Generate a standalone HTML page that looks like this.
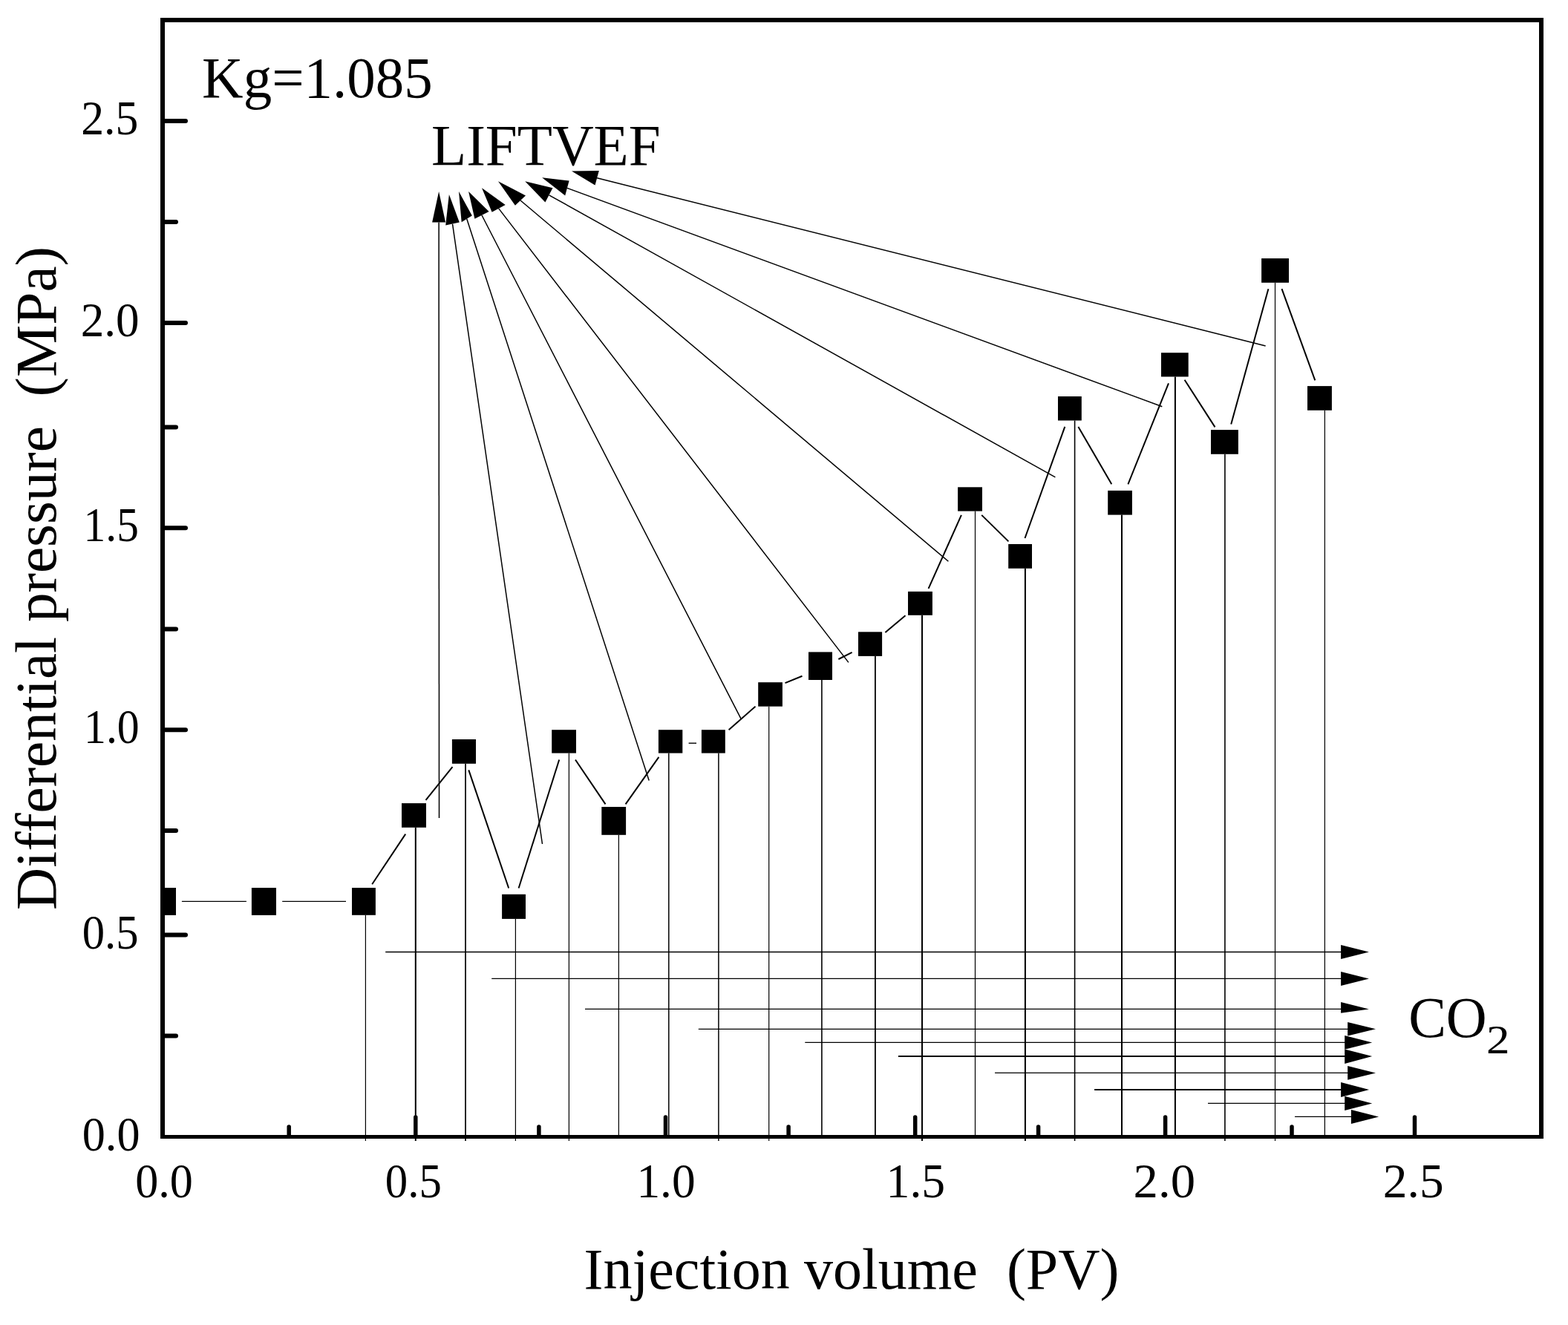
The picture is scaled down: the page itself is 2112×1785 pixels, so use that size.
<!DOCTYPE html>
<html><head><meta charset="utf-8"><title>Differential pressure vs injection volume</title>
<style>html,body{margin:0;padding:0;background:#fff;width:2112px;height:1785px;overflow:hidden}svg{display:block}</style>
</head><body>
<svg width="2112" height="1785" viewBox="0 0 2112 1785">
<rect x="216" y="24" width="6" height="1510" fill="#000"/>
<rect x="216" y="24" width="1863" height="6" fill="#000"/>
<rect x="2073" y="24" width="6" height="1510" fill="#000"/>
<rect x="216" y="1529" width="1863" height="5" fill="#000"/>
<line x1="219" y1="163.0" x2="250" y2="163.0" stroke="#000" stroke-width="6" stroke-linecap="round"/>
<line x1="219" y1="435.0" x2="250" y2="435.0" stroke="#000" stroke-width="6" stroke-linecap="round"/>
<line x1="219" y1="711.2" x2="250" y2="711.2" stroke="#000" stroke-width="6" stroke-linecap="round"/>
<line x1="219" y1="983.2" x2="250" y2="983.2" stroke="#000" stroke-width="6" stroke-linecap="round"/>
<line x1="219" y1="1259.5" x2="250" y2="1259.5" stroke="#000" stroke-width="6" stroke-linecap="round"/>
<line x1="219" y1="298.9" x2="237" y2="298.9" stroke="#000" stroke-width="6" stroke-linecap="round"/>
<line x1="219" y1="575.5" x2="237" y2="575.5" stroke="#000" stroke-width="6" stroke-linecap="round"/>
<line x1="219" y1="847.4" x2="237" y2="847.4" stroke="#000" stroke-width="6" stroke-linecap="round"/>
<line x1="219" y1="1119.0" x2="237" y2="1119.0" stroke="#000" stroke-width="6" stroke-linecap="round"/>
<line x1="219" y1="1395.5" x2="237" y2="1395.5" stroke="#000" stroke-width="6" stroke-linecap="round"/>
<line x1="559.8" y1="1531" x2="559.8" y2="1505" stroke="#000" stroke-width="5.5" stroke-linecap="round"/>
<line x1="896.5" y1="1531" x2="896.5" y2="1505" stroke="#000" stroke-width="5.5" stroke-linecap="round"/>
<line x1="1232.7" y1="1531" x2="1232.7" y2="1505" stroke="#000" stroke-width="5.5" stroke-linecap="round"/>
<line x1="1569.6" y1="1531" x2="1569.6" y2="1505" stroke="#000" stroke-width="5.5" stroke-linecap="round"/>
<line x1="1905.5" y1="1531" x2="1905.5" y2="1505" stroke="#000" stroke-width="5.5" stroke-linecap="round"/>
<line x1="389.2" y1="1531" x2="389.2" y2="1518" stroke="#000" stroke-width="5.5" stroke-linecap="round"/>
<line x1="725.9" y1="1531" x2="725.9" y2="1518" stroke="#000" stroke-width="5.5" stroke-linecap="round"/>
<line x1="1062.1" y1="1531" x2="1062.1" y2="1518" stroke="#000" stroke-width="5.5" stroke-linecap="round"/>
<line x1="1398.6" y1="1531" x2="1398.6" y2="1518" stroke="#000" stroke-width="5.5" stroke-linecap="round"/>
<line x1="1740.0" y1="1531" x2="1740.0" y2="1518" stroke="#000" stroke-width="5.5" stroke-linecap="round"/>
<line x1="492.4" y1="1232.8" x2="492.4" y2="1537" stroke="#000" stroke-width="1.2"/>
<line x1="559.8" y1="1114.8" x2="559.8" y2="1537" stroke="#000" stroke-width="2"/>
<line x1="627.0" y1="1028.8" x2="627.0" y2="1537" stroke="#000" stroke-width="1.7"/>
<line x1="694.4" y1="1237.9" x2="694.4" y2="1537" stroke="#000" stroke-width="1.2"/>
<line x1="766.4" y1="1014.6" x2="766.4" y2="1537" stroke="#000" stroke-width="1.2"/>
<line x1="833.4" y1="1124.8" x2="833.4" y2="1531" stroke="#000" stroke-width="1.2"/>
<line x1="900.8" y1="1014.6" x2="900.8" y2="1531" stroke="#000" stroke-width="1.5"/>
<line x1="967.9" y1="1014.6" x2="967.9" y2="1537" stroke="#000" stroke-width="1.5"/>
<line x1="1035.7" y1="951.7" x2="1035.7" y2="1537" stroke="#000" stroke-width="1.2"/>
<line x1="1106.9" y1="916.0" x2="1106.9" y2="1531" stroke="#000" stroke-width="1.6"/>
<line x1="1178.9" y1="883.9" x2="1178.9" y2="1531" stroke="#000" stroke-width="1.8"/>
<line x1="1242.0" y1="828.8" x2="1242.0" y2="1537" stroke="#000" stroke-width="2"/>
<line x1="1313.5" y1="688.6" x2="1313.5" y2="1531" stroke="#000" stroke-width="1.2"/>
<line x1="1380.9" y1="765.8" x2="1380.9" y2="1537" stroke="#000" stroke-width="2"/>
<line x1="1447.6" y1="566.5" x2="1447.6" y2="1537" stroke="#000" stroke-width="1.6"/>
<line x1="1511.0" y1="693.6" x2="1511.0" y2="1531" stroke="#000" stroke-width="2"/>
<line x1="1582.9" y1="507.5" x2="1582.9" y2="1531" stroke="#000" stroke-width="2"/>
<line x1="1649.9" y1="611.8" x2="1649.9" y2="1537" stroke="#000" stroke-width="1.6"/>
<line x1="1717.5" y1="380.8" x2="1717.5" y2="1537" stroke="#000" stroke-width="1.2"/>
<line x1="1784.4" y1="552.8" x2="1784.4" y2="1531" stroke="#000" stroke-width="1.2"/>
<line x1="244.9" y1="1214.4" x2="331.9" y2="1214.4" stroke="#000" stroke-width="1.4"/>
<line x1="380.2" y1="1214.4" x2="466.0" y2="1214.4" stroke="#000" stroke-width="1.4"/>
<line x1="501.2" y1="1191.2" x2="546.2" y2="1123.6" stroke="#000" stroke-width="2.0"/>
<line x1="573.5" y1="1077.9" x2="609.5" y2="1033.1" stroke="#000" stroke-width="2.0"/>
<line x1="631.3" y1="1037.4" x2="685.2" y2="1196.5" stroke="#000" stroke-width="2.0"/>
<line x1="698.6" y1="1196.5" x2="753.2" y2="1023.5" stroke="#000" stroke-width="2.0"/>
<line x1="775.0" y1="1023.5" x2="815.5" y2="1083.4" stroke="#000" stroke-width="2.0"/>
<line x1="842.6" y1="1083.4" x2="887.4" y2="1019.9" stroke="#000" stroke-width="2.0"/>
<line x1="927.6" y1="1001.2" x2="938.0" y2="1001.2" stroke="#000" stroke-width="1.4"/>
<line x1="981.6" y1="983.3" x2="1017.5" y2="951.7" stroke="#000" stroke-width="2.0"/>
<line x1="1057.5" y1="920.1" x2="1080.5" y2="910.8" stroke="#000" stroke-width="2.0"/>
<line x1="1129.4" y1="888.0" x2="1147.6" y2="878.9" stroke="#000" stroke-width="2.0"/>
<line x1="1192.4" y1="852.0" x2="1219.5" y2="829.3" stroke="#000" stroke-width="2.0"/>
<line x1="1250.6" y1="792.9" x2="1294.9" y2="693.9" stroke="#000" stroke-width="2.0"/>
<line x1="1322.2" y1="693.9" x2="1358.4" y2="729.4" stroke="#000" stroke-width="2.0"/>
<line x1="1380.5" y1="725.0" x2="1434.3" y2="574.9" stroke="#000" stroke-width="2.0"/>
<line x1="1452.4" y1="574.9" x2="1497.3" y2="652.3" stroke="#000" stroke-width="2.0"/>
<line x1="1519.4" y1="652.3" x2="1574.0" y2="516.3" stroke="#000" stroke-width="2.0"/>
<line x1="1595.6" y1="511.7" x2="1636.5" y2="575.4" stroke="#000" stroke-width="2.0"/>
<line x1="1658.2" y1="571.6" x2="1708.4" y2="389.2" stroke="#000" stroke-width="2.0"/>
<line x1="1726.5" y1="389.2" x2="1771.3" y2="512.4" stroke="#000" stroke-width="2.0"/>
<rect x="216.0" y="1196.0" width="21.0" height="36.9" fill="#000"/>
<rect x="338.9" y="1196.0" width="33.1" height="36.9" fill="#000"/>
<rect x="474.0" y="1196.0" width="31.9" height="36.8" fill="#000"/>
<rect x="541.0" y="1082.1" width="33.0" height="32.7" fill="#000"/>
<rect x="608.9" y="996.0" width="32.1" height="32.8" fill="#000"/>
<rect x="676.1" y="1204.8" width="31.9" height="33.1" fill="#000"/>
<rect x="743.2" y="983.2" width="32.8" height="31.4" fill="#000"/>
<rect x="810.3" y="1087.0" width="32.8" height="37.8" fill="#000"/>
<rect x="886.9" y="983.2" width="32.4" height="31.4" fill="#000"/>
<rect x="944.9" y="983.2" width="31.9" height="31.4" fill="#000"/>
<rect x="1021.2" y="919.2" width="32.7" height="32.5" fill="#000"/>
<rect x="1089.0" y="878.4" width="32.0" height="37.6" fill="#000"/>
<rect x="1156.0" y="851.3" width="32.1" height="32.6" fill="#000"/>
<rect x="1223.0" y="796.9" width="32.9" height="31.9" fill="#000"/>
<rect x="1290.1" y="656.3" width="32.9" height="32.3" fill="#000"/>
<rect x="1358.2" y="733.0" width="31.8" height="32.8" fill="#000"/>
<rect x="1425.0" y="534.0" width="31.8" height="32.5" fill="#000"/>
<rect x="1492.2" y="660.9" width="32.7" height="32.7" fill="#000"/>
<rect x="1564.0" y="475.2" width="36.7" height="32.3" fill="#000"/>
<rect x="1631.0" y="579.1" width="36.9" height="32.7" fill="#000"/>
<rect x="1699.1" y="348.1" width="36.9" height="32.7" fill="#000"/>
<rect x="1761.0" y="520.1" width="32.9" height="32.7" fill="#000"/>
<line x1="591.5" y1="1102" x2="591.1" y2="299.6" stroke="#000" stroke-width="1.5"/>
<polygon points="591.1,258.0 582.1,299.6 600.1,299.6" fill="#000"/>
<line x1="730.5" y1="1137" x2="609.5" y2="301.6" stroke="#000" stroke-width="1.5"/>
<polygon points="604.9,262.1 600.2,303.6 618.8,299.6" fill="#000"/>
<line x1="874.2" y1="1051.5" x2="628.8" y2="294.9" stroke="#000" stroke-width="1.5"/>
<polygon points="618.0,258.0 621.7,299.2 635.8,290.5" fill="#000"/>
<line x1="998.5" y1="969.1" x2="649.0" y2="290.0" stroke="#000" stroke-width="1.5"/>
<polygon points="631.1,258.0 639.4,294.8 658.6,285.1" fill="#000"/>
<line x1="1142.9" y1="892.4" x2="671.7" y2="280.9" stroke="#000" stroke-width="1.5"/>
<polygon points="649.0,253.2 662.6,285.8 680.7,276.0" fill="#000"/>
<line x1="1277.4" y1="756.2" x2="701.0" y2="270.0" stroke="#000" stroke-width="1.5"/>
<polygon points="671.0,244.2 693.9,276.7 708.0,263.4" fill="#000"/>
<line x1="1421.4" y1="642.8" x2="739.5" y2="262.8" stroke="#000" stroke-width="1.5"/>
<polygon points="707.2,244.2 734.4,272.4 744.5,253.2" fill="#000"/>
<line x1="1565.3" y1="547.7" x2="763.9" y2="253.4" stroke="#000" stroke-width="1.5"/>
<polygon points="730.1,239.2 761.2,263.4 766.6,243.5" fill="#000"/>
<line x1="1704.6" y1="465.9" x2="804.1" y2="239.8" stroke="#000" stroke-width="1.5"/>
<polygon points="770.0,230.4 801.5,249.6 806.8,230.1" fill="#000"/>
<line x1="519.2" y1="1282.5" x2="1807.1" y2="1282.5" stroke="#000" stroke-width="1.3"/>
<polygon points="1843.9,1282.5 1806.1,1273.0 1806.1,1291.9" fill="#000"/>
<line x1="662.2" y1="1318.4" x2="1807.1" y2="1318.4" stroke="#000" stroke-width="1.3"/>
<polygon points="1843.9,1318.4 1806.1,1309.0 1806.1,1328.0" fill="#000"/>
<line x1="788.0" y1="1359.4" x2="1807.1" y2="1359.4" stroke="#000" stroke-width="1.3"/>
<polygon points="1843.9,1359.4 1806.1,1349.9 1806.1,1364.8000000000002" fill="#000"/>
<line x1="940.8" y1="1386.3" x2="1816.2" y2="1386.3" stroke="#000" stroke-width="1.3"/>
<polygon points="1853.0,1386.3 1815.2,1377.1 1815.2,1395.6" fill="#000"/>
<line x1="1084.3" y1="1404.4" x2="1812.2" y2="1404.4" stroke="#000" stroke-width="1.3"/>
<polygon points="1848.2,1404.4 1811.2,1395.1000000000001 1811.2,1413.8000000000002" fill="#000"/>
<line x1="1210.0" y1="1422.9" x2="1812.2" y2="1422.9" stroke="#000" stroke-width="2.0"/>
<polygon points="1848.2,1422.9 1811.2,1413.4 1811.2,1432.9" fill="#000"/>
<line x1="1340.0" y1="1445.4" x2="1816.2" y2="1445.4" stroke="#000" stroke-width="1.3"/>
<polygon points="1853.0,1445.4 1815.2,1436.1000000000001 1815.2,1454.8000000000002" fill="#000"/>
<line x1="1474.1" y1="1468.1" x2="1807.1" y2="1468.1" stroke="#000" stroke-width="2.0"/>
<polygon points="1844.1,1468.1 1806.1,1458.0 1806.1,1477.8999999999999" fill="#000"/>
<line x1="1627.0" y1="1486.4" x2="1812.2" y2="1486.4" stroke="#000" stroke-width="1.3"/>
<polygon points="1848.2,1486.4 1811.2,1476.7 1811.2,1495.9" fill="#000"/>
<line x1="1744.0" y1="1504.4" x2="1820.9" y2="1504.4" stroke="#000" stroke-width="1.3"/>
<polygon points="1857.1,1504.4 1819.9,1495.0 1819.9,1513.9" fill="#000"/>
<text transform="translate(272.10,130.80) scale(0.9868,1)" font-family="'Liberation Serif', 'Times New Roman', serif" font-size="78" style="white-space:pre">Kg=1.085</text>
<text transform="translate(581.00,222.00) scale(0.9894,1)" font-family="'Liberation Serif', 'Times New Roman', serif" font-size="78" style="white-space:pre">LIFTVEF</text>
<text transform="translate(1897.15,1396.90) scale(0.9626,1)" font-family="'Liberation Serif', 'Times New Roman', serif" font-size="78.99" style="white-space:pre">CO</text>
<text transform="translate(2001.91,1419.43) scale(1.1555,1)" font-family="'Liberation Serif', 'Times New Roman', serif" font-size="54.67" style="white-space:pre">2</text>
<text transform="translate(786.60,1736.10) scale(0.9994,1)" font-family="'Liberation Serif', 'Times New Roman', serif" font-size="78" style="white-space:pre">Injection volume  (PV)</text>
<text transform="translate(75.00,1226.00) rotate(-90) scale(1.0160,1)" font-family="'Liberation Serif', 'Times New Roman', serif" font-size="78" style="white-space:pre">Differential pressure  (MPa)</text>
<text transform="translate(109.14,181.00) scale(0.9565,1)" font-family="'Liberation Serif', 'Times New Roman', serif" font-size="64.5" style="white-space:pre">2.5</text>
<text transform="translate(108.68,452.60) scale(0.9781,1)" font-family="'Liberation Serif', 'Times New Roman', serif" font-size="64.5" style="white-space:pre">2.0</text>
<text transform="translate(112.61,729.20) scale(0.9207,1)" font-family="'Liberation Serif', 'Times New Roman', serif" font-size="64.5" style="white-space:pre">1.5</text>
<text transform="translate(113.07,1001.00) scale(0.9264,1)" font-family="'Liberation Serif', 'Times New Roman', serif" font-size="64.5" style="white-space:pre">1.0</text>
<text transform="translate(110.80,1277.60) scale(0.9403,1)" font-family="'Liberation Serif', 'Times New Roman', serif" font-size="64.5" style="white-space:pre">0.5</text>
<text transform="translate(110.75,1550.20) scale(0.9642,1)" font-family="'Liberation Serif', 'Times New Roman', serif" font-size="64.5" style="white-space:pre">0.0</text>
<text transform="translate(182.14,1612.50) scale(0.9643,1)" font-family="'Liberation Serif', 'Times New Roman', serif" font-size="64.5" style="white-space:pre">0.0</text>
<text transform="translate(518.78,1613.20) scale(0.9431,1)" font-family="'Liberation Serif', 'Times New Roman', serif" font-size="64.5" style="white-space:pre">0.5</text>
<text transform="translate(857.38,1612.60) scale(0.9825,1)" font-family="'Liberation Serif', 'Times New Roman', serif" font-size="64.5" style="white-space:pre">1.0</text>
<text transform="translate(1193.56,1612.60) scale(0.9875,1)" font-family="'Liberation Serif', 'Times New Roman', serif" font-size="64.5" style="white-space:pre">1.5</text>
<text transform="translate(1526.59,1612.60) scale(1.0349,1)" font-family="'Liberation Serif', 'Times New Roman', serif" font-size="64.5" style="white-space:pre">2.0</text>
<text transform="translate(1862.85,1612.60) scale(1.0147,1)" font-family="'Liberation Serif', 'Times New Roman', serif" font-size="64.5" style="white-space:pre">2.5</text>
</svg>
</body></html>
